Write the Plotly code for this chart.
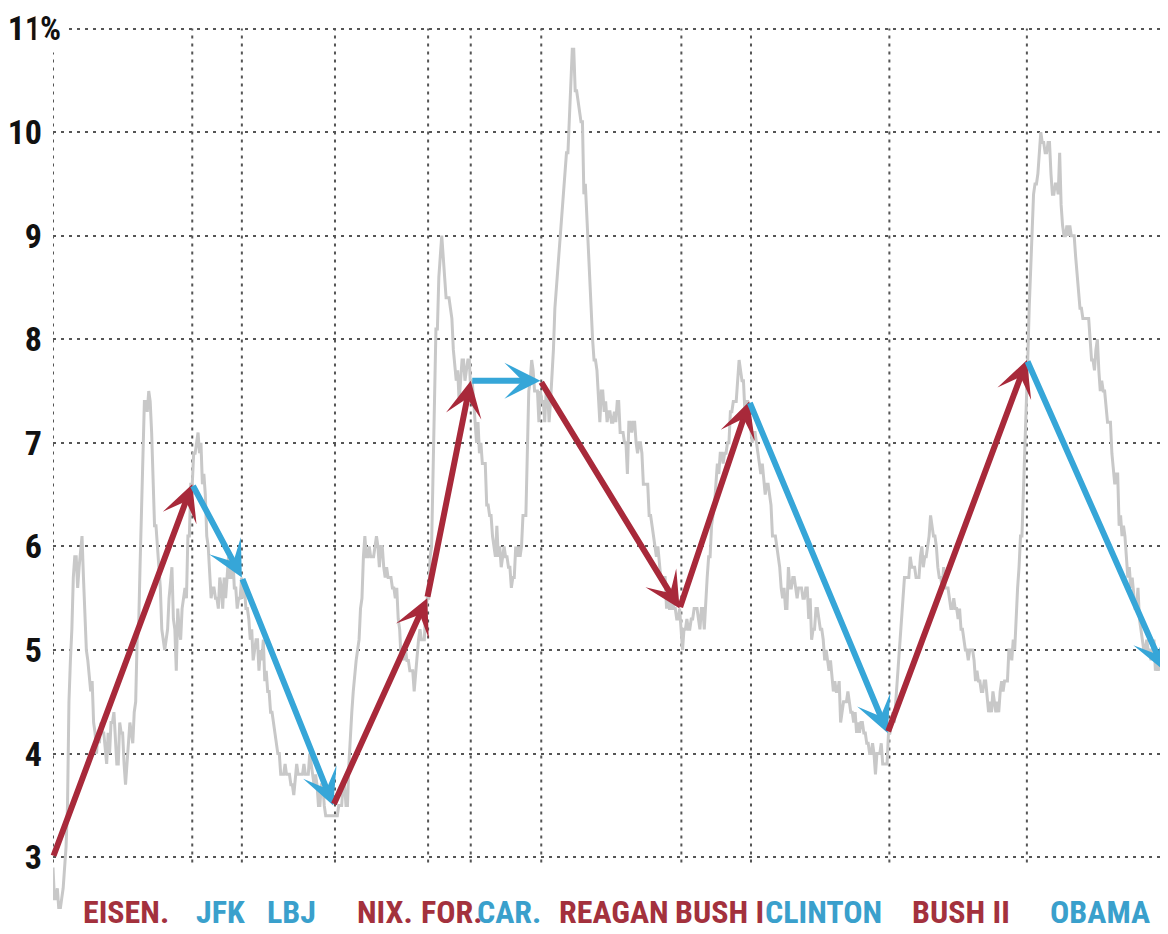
import plotly.graph_objects as go

# Monthly US unemployment rate (%), Jan 1953 onward
u_1953_1959 = [
    2.9, 2.6, 2.6, 2.7, 2.5, 2.5, 2.6, 2.7, 2.9, 3.1, 3.5, 4.5,
    4.9, 5.2, 5.7, 5.9, 5.9, 5.6, 5.8, 6.0, 6.1, 5.7, 5.3, 5.0,
    4.9, 4.7, 4.6, 4.7, 4.3, 4.2, 4.0, 4.2, 4.1, 4.3, 4.2, 4.2,
    4.0, 3.9, 4.2, 4.0, 4.3, 4.3, 4.4, 4.1, 3.9, 3.9, 4.3, 4.2,
    4.2, 3.9, 3.7, 3.9, 4.1, 4.3, 4.2, 4.1, 4.4, 4.5, 5.1, 5.2,
    5.8, 6.4, 6.7, 7.4, 7.4, 7.3, 7.5, 7.4, 7.1, 6.7, 6.2, 6.2,
    6.0, 5.9, 5.6, 5.2, 5.1, 5.0, 5.1, 5.2, 5.5, 5.7, 5.8, 5.3,
]
u_1960s = [
    5.2, 4.8, 5.4, 5.2, 5.1, 5.4, 5.5, 5.6, 5.5, 6.1, 6.1, 6.6,
    6.6, 6.9, 6.9, 7.0, 7.1, 6.9, 7.0, 6.6, 6.7, 6.5, 6.1, 6.0,
    5.8, 5.5, 5.6, 5.6, 5.5, 5.5, 5.4, 5.7, 5.6, 5.4, 5.7, 5.5,
    5.7, 5.9, 5.7, 5.7, 5.9, 5.6, 5.6, 5.4, 5.5, 5.5, 5.7, 5.5,
    5.6, 5.4, 5.4, 5.3, 5.1, 5.2, 4.9, 5.0, 5.1, 5.1, 4.8, 5.0,
    4.9, 5.1, 4.7, 4.8, 4.6, 4.6, 4.4, 4.4, 4.3, 4.2, 4.1, 4.0,
    4.0, 3.8, 3.8, 3.8, 3.9, 3.8, 3.8, 3.8, 3.7, 3.7, 3.6, 3.8,
    3.9, 3.8, 3.8, 3.8, 3.8, 3.9, 3.8, 3.8, 3.8, 4.0, 3.9, 3.8,
    3.7, 3.8, 3.7, 3.5, 3.5, 3.7, 3.7, 3.5, 3.4, 3.4, 3.4, 3.4,
    3.4, 3.4, 3.4, 3.4, 3.4, 3.5, 3.5, 3.5, 3.7, 3.7, 3.5, 3.5,
]
u_1970s = [
    3.9, 4.2, 4.4, 4.6, 4.8, 4.9, 5.0, 5.1, 5.4, 5.5, 5.9, 6.1,
    5.9, 5.9, 6.0, 5.9, 5.9, 5.9, 6.0, 6.1, 6.0, 5.8, 6.0, 6.0,
    5.8, 5.7, 5.8, 5.7, 5.7, 5.7, 5.6, 5.6, 5.5, 5.6, 5.3, 5.2,
    4.9, 5.0, 4.9, 5.0, 4.9, 4.9, 4.8, 4.8, 4.8, 4.6, 4.8, 4.9,
    5.1, 5.2, 5.1, 5.1, 5.1, 5.4, 5.5, 5.5, 5.9, 6.0, 6.6, 7.2,
    8.1, 8.1, 8.6, 8.8, 9.0, 8.8, 8.6, 8.4, 8.4, 8.4, 8.3, 8.2,
    7.9, 7.7, 7.6, 7.7, 7.4, 7.6, 7.8, 7.8, 7.6, 7.7, 7.8, 7.8,
    7.5, 7.6, 7.4, 7.2, 7.0, 7.2, 6.9, 7.0, 6.8, 6.8, 6.8, 6.4,
    6.4, 6.3, 6.3, 6.1, 6.0, 5.9, 6.2, 5.9, 6.0, 5.8, 5.9, 6.0,
    5.9, 5.9, 5.8, 5.8, 5.6, 5.7, 5.7, 6.0, 5.9, 6.0, 5.9, 6.0,
]
u_1980s = [
    6.3, 6.3, 6.3, 6.9, 7.5, 7.6, 7.8, 7.7, 7.5, 7.5, 7.5, 7.2,
    7.5, 7.4, 7.4, 7.2, 7.5, 7.5, 7.2, 7.4, 7.6, 7.9, 8.3, 8.5,
    8.6, 8.9, 9.0, 9.3, 9.4, 9.6, 9.8, 9.8, 10.1, 10.4, 10.8, 10.8,
    10.4, 10.4, 10.3, 10.2, 10.1, 10.1, 9.4, 9.5, 9.2, 8.8, 8.5, 8.3,
    8.0, 7.8, 7.8, 7.7, 7.4, 7.2, 7.5, 7.5, 7.3, 7.4, 7.2, 7.3,
    7.3, 7.2, 7.2, 7.3, 7.2, 7.4, 7.4, 7.1, 7.1, 7.1, 7.0, 7.0,
    6.7, 7.2, 7.2, 7.1, 7.2, 7.2, 7.0, 6.9, 7.0, 7.0, 6.9, 6.6,
    6.6, 6.6, 6.6, 6.3, 6.3, 6.2, 6.1, 6.0, 5.9, 6.0, 5.8, 5.7,
    5.7, 5.7, 5.7, 5.4, 5.6, 5.4, 5.4, 5.6, 5.4, 5.4, 5.3, 5.3,
    5.4, 5.2, 5.0, 5.2, 5.2, 5.3, 5.2, 5.2, 5.3, 5.3, 5.4, 5.4,
]
u_1990s = [
    5.4, 5.3, 5.2, 5.4, 5.4, 5.2, 5.5, 5.7, 5.9, 5.9, 6.2, 6.3,
    6.4, 6.6, 6.8, 6.7, 6.9, 6.9, 6.8, 6.9, 6.9, 7.0, 7.0, 7.3,
    7.3, 7.4, 7.4, 7.4, 7.6, 7.8, 7.7, 7.6, 7.6, 7.3, 7.4, 7.4,
    7.3, 7.1, 7.0, 7.1, 7.1, 7.0, 6.9, 6.8, 6.7, 6.8, 6.6, 6.5,
    6.6, 6.6, 6.5, 6.4, 6.1, 6.1, 6.1, 6.0, 5.9, 5.8, 5.6, 5.5,
    5.6, 5.4, 5.4, 5.8, 5.6, 5.6, 5.7, 5.7, 5.6, 5.5, 5.6, 5.6,
    5.6, 5.5, 5.5, 5.6, 5.6, 5.3, 5.5, 5.1, 5.2, 5.2, 5.4, 5.4,
    5.3, 5.2, 5.2, 5.1, 4.9, 5.0, 4.9, 4.8, 4.9, 4.7, 4.6, 4.7,
    4.6, 4.6, 4.7, 4.3, 4.4, 4.5, 4.5, 4.5, 4.6, 4.5, 4.4, 4.4,
    4.3, 4.4, 4.2, 4.3, 4.2, 4.3, 4.3, 4.2, 4.2, 4.1, 4.1, 4.0,
]
u_2000s = [
    4.0, 4.1, 4.0, 3.8, 4.0, 4.0, 4.0, 4.1, 3.9, 3.9, 3.9, 3.9,
    4.2, 4.2, 4.3, 4.4, 4.3, 4.5, 4.6, 4.9, 5.0, 5.3, 5.5, 5.7,
    5.7, 5.7, 5.7, 5.9, 5.8, 5.8, 5.8, 5.7, 5.7, 5.7, 5.9, 6.0,
    5.8, 5.9, 5.9, 6.0, 6.1, 6.3, 6.2, 6.1, 6.1, 6.0, 5.8, 5.7,
    5.7, 5.6, 5.8, 5.6, 5.6, 5.6, 5.5, 5.4, 5.4, 5.5, 5.4, 5.4,
    5.3, 5.4, 5.2, 5.2, 5.1, 5.0, 5.0, 4.9, 5.0, 5.0, 5.0, 4.9,
    4.7, 4.8, 4.7, 4.7, 4.6, 4.6, 4.7, 4.7, 4.5, 4.4, 4.5, 4.4,
    4.6, 4.5, 4.4, 4.5, 4.4, 4.6, 4.7, 4.6, 4.7, 4.7, 4.7, 5.0,
    5.0, 4.9, 5.1, 5.0, 5.4, 5.6, 5.8, 6.1, 6.1, 6.5, 6.8, 7.3,
    7.8, 8.3, 8.7, 9.0, 9.4, 9.5, 9.5, 9.6, 9.8, 10.0, 9.9, 9.9,
]
u_2010s = [
    9.8, 9.8, 9.9, 9.9, 9.6, 9.4, 9.4, 9.5, 9.5, 9.4, 9.8, 9.3,
    9.1, 9.0, 9.0, 9.1, 9.0, 9.1, 9.0, 9.0, 9.0, 8.8, 8.6, 8.5,
    8.3, 8.3, 8.2, 8.2, 8.2, 8.2, 8.2, 8.0, 7.8, 7.8, 7.7, 7.9,
    8.0, 7.7, 7.5, 7.6, 7.5, 7.5, 7.3, 7.2, 7.2, 7.2, 6.9, 6.7,
    6.6, 6.7, 6.7, 6.2, 6.3, 6.1, 6.2, 6.1, 5.9, 5.7, 5.8, 5.6,
    5.7, 5.5, 5.4, 5.4, 5.6, 5.3, 5.2, 5.1, 5.0, 5.0, 5.1, 5.0,
    5.0, 4.9, 5.0, 5.1, 4.8, 4.9, 4.8, 4.9, 5.0, 4.9, 4.7, 4.7,
]
start_year = 1953

# Presidencies: term boundaries (decimal years) and the rate at each boundary
presidents = ["EISEN.", "JFK", "LBJ", "NIX.", "FOR.", "CAR.", "REAGAN",
              "BUSH I", "CLINTON", "BUSH II", "OBAMA"]
parties = ["R", "D", "D", "R", "R", "D", "R", "R", "D", "R", "D"]
term_bounds = [1953.0, 1961.0, 1963.85, 1969.2, 1974.55, 1977.0, 1981.05,
               1989.1, 1993.1, 2001.05, 2008.95, 2017.0]
arrow_x = [1953.0, 1961.0, 1963.85, 1969.1, 1974.5, 1977.0, 1981.0,
           1989.0, 1993.0, 2000.95, 2008.95, 2016.85]
arrow_y = [3.0, 6.6, 5.7, 3.5, 5.5, 7.6, 7.6, 5.4, 7.4, 4.2, 7.8, 4.8]

y_ticks = [3, 4, 5, 6, 7, 8, 9, 10, 11]
y_ticktext = ["3", "4", "5", "6", "7", "8", "9", "10", "11"]

RED = "#a8293a"
BLUE = "#36a6d8"
LABEL_RED = "#a3313d"
LABEL_BLUE = "#3aa0cc"
FONT = "Roboto Condensed, Liberation Sans Narrow, DejaVu Sans Condensed, sans-serif"

unemp = u_1953_1959 + u_1960s + u_1970s + u_1980s + u_1990s + u_2000s + u_2010s
dates = [start_year + i / 12 for i in range(len(unemp))]

fig = go.Figure()
fig.add_trace(go.Scatter(
    x=dates, y=unemp, mode="lines",
    line=dict(color="#c8c8c8", width=3),
    hoverinfo="skip", showlegend=False,
))

# vertical dotted lines at term boundaries
for b in term_bounds:
    fig.add_shape(type="line", xref="x", yref="y", x0=b, x1=b, y0=2.95, y1=11.0,
                  line=dict(color="#555555", width=2, dash="3px,5px"), layer="below")

# one arrow per presidency, from the rate at inauguration to the rate at exit
for i, p in enumerate(parties):
    col = RED if p == "R" else BLUE
    fig.add_annotation(
        x=arrow_x[i + 1], y=arrow_y[i + 1], ax=arrow_x[i], ay=arrow_y[i],
        xref="x", yref="y", axref="x", ayref="y", text="",
        showarrow=True, arrowhead=3, arrowsize=1.0, arrowwidth=6,
        arrowcolor=col, standoff=0, startstandoff=0,
    )

# president labels under the chart
for i, name in enumerate(presidents):
    col = LABEL_RED if parties[i] == "R" else LABEL_BLUE
    fig.add_annotation(
        x=(term_bounds[i] + term_bounds[i + 1]) / 2, y=0, xref="x", yref="paper",
        xshift=3, yshift=-3, text=name, showarrow=False,
        xanchor="center", yanchor="middle",
        font=dict(family=FONT, size=32, color=col, weight="bold"),
    )

# percent sign after the top tick label
fig.add_annotation(
    x=1953.0, y=11, xref="x", yref="y", text="%", showarrow=False,
    xanchor="left", yanchor="middle", xshift=-18, bgcolor="white", borderpad=4,
    font=dict(family=FONT, size=33, color="#111111", weight="bold"),
)

# the page body adds an 8px margin, so the figure is 8px smaller than the window
fig.update_layout(
    width=1160, height=926,
    margin=dict(l=45, r=1, t=5, b=25),
    paper_bgcolor="white", plot_bgcolor="white",
    showlegend=False,
    xaxis=dict(range=[1953, 2017], showgrid=False, zeroline=False, automargin=False,
               showticklabels=False, showline=False, ticks=""),
    yaxis=dict(range=[2.5, 11.15], tickvals=y_ticks, ticktext=y_ticktext, automargin=False,
               showgrid=True, gridcolor="#555555", gridwidth=2, griddash="3px,5px",
               zeroline=False, showline=False, ticks="", ticklabelstandoff=10,
               tickfont=dict(family=FONT, size=34, color="#111111", weight="bold")),
)

fig.write_html("out.html")
